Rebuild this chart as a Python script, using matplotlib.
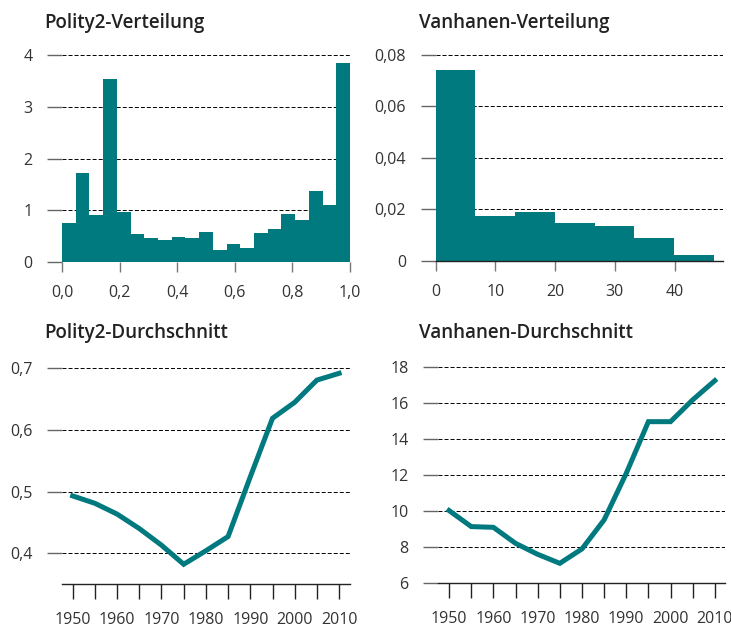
import numpy as np
import matplotlib.pyplot as plt

plt.rcParams['font.family'] = ['Open Sans', 'DejaVu Sans']

teal = '#00797f'

# Polity2-Verteilung (21 Klassen von 0 bis 1)
polity_bins = np.linspace(0, 1, 22)
polity_dens = [0.75, 1.71, 0.91, 3.55, 0.96, 0.53, 0.45, 0.43, 0.47, 0.45, 0.57,
               0.23, 0.35, 0.26, 0.56, 0.63, 0.92, 0.81, 1.38, 1.09, 3.86]

# Vanhanen-Verteilung (7 Klassen)
vanh_bins = np.linspace(0, 46.6, 8)
vanh_dens = [0.0740, 0.01757, 0.01886, 0.01473, 0.01357, 0.00904, 0.00245]

# Durchschnitte
years = [1950, 1955, 1960, 1965, 1970, 1975, 1980, 1985, 1990, 1995, 2000, 2005, 2010]
polity_mean = [0.493, 0.481, 0.4635, 0.440, 0.413, 0.382, 0.404, 0.427, 0.524,
               0.619, 0.645, 0.681, 0.692]
vanh_mean = [10.04, 9.15, 9.11, 8.22, 7.61, 7.11, 7.91, 9.52, 12.11, 14.98, 14.98,
             16.19, 17.26]

tl_xticks = [0, 0.2, 0.4, 0.6, 0.8, 1.0]
tl_xlabels = ['0,0', '0,2', '0,4', '0,6', '0,8', '1,0']
tl_yticks = [0, 1, 2, 3, 4]
tr_xticks = [0, 10, 20, 30, 40]
tr_yticks = [0, 0.02, 0.04, 0.06, 0.08]
tr_ylabels = ['0', '0,02', '0,04', '0,06', '0,08']
bl_yticks = [0.4, 0.5, 0.6, 0.7]
bl_ylabels = ['0,4', '0,5', '0,6', '0,7']
br_yticks = [6, 8, 10, 12, 14, 16, 18]
dec_years = [1950, 1960, 1970, 1980, 1990, 2000, 2010]

fig = plt.figure(figsize=(7.31, 6.27), dpi=100, facecolor='white')

ax1 = fig.add_axes([0.0848, 0.5826, 0.394, 0.3333])
ax2 = fig.add_axes([0.5958, 0.5837, 0.3933, 0.3313])
ax3 = fig.add_axes([0.0848, 0.0686, 0.394, 0.3635])
ax4 = fig.add_axes([0.5992, 0.0697, 0.3926, 0.3531])


def style(ax, gridvals, bottom_spine=True, xtick_col='#777777', xtick_len=7.2):
    for s in ['top', 'right', 'left']:
        ax.spines[s].set_visible(False)
    ax.spines['bottom'].set_visible(bottom_spine)
    ax.spines['bottom'].set_color('#222222')
    ax.spines['bottom'].set_linewidth(1.0)
    for g in gridvals:
        ax.axhline(g, color='black', lw=0.7, linestyle=(0, (4.1, 2.1)), zorder=0.5)
    ax.tick_params(axis='y', direction='out', length=10.8, width=1.0, color='#666666',
                   pad=10.5, labelsize=11.5, labelcolor='#333333')
    ax.tick_params(axis='x', which='both', direction='out', length=xtick_len, width=1.0,
                   color=xtick_col, pad=9.5, labelsize=11.5, labelcolor='#333333')


# oben links
ax1.bar(polity_bins[:-1], polity_dens, width=np.diff(polity_bins), align='edge',
        color=teal, linewidth=0, zorder=2)
ax1.set_xlim(0, 1)
ax1.set_ylim(0, 4.05)
ax1.set_xticks(tl_xticks, tl_xlabels)
ax1.set_yticks(tl_yticks, [str(v) for v in tl_yticks])
style(ax1, [1, 2, 3, 4], bottom_spine=False)

# oben rechts
ax2.bar(vanh_bins[:-1], vanh_dens, width=np.diff(vanh_bins), align='edge',
        color=teal, linewidth=0, zorder=2)
ax2.set_xlim(0, 48.1)
ax2.set_ylim(0, 0.0805)
ax2.set_xticks(tr_xticks, [str(v) for v in tr_xticks])
ax2.set_yticks(tr_yticks, tr_ylabels)
style(ax2, tr_yticks[1:])
ax2.spines['bottom'].set_zorder(3)

# unten links
ax3.plot(years, polity_mean, color=teal, lw=3.6, solid_joinstyle='miter', zorder=3)
ax3.set_xlim(1947.6, 2012.45)
ax3.set_ylim(0.35, 0.72)
ax3.set_xticks(dec_years, [str(v) for v in dec_years])
ax3.set_xticks(years[1::2], minor=True)
ax3.set_yticks(bl_yticks, bl_ylabels)
style(ax3, bl_yticks, xtick_col='#222222', xtick_len=10.5)

# unten rechts
ax4.plot(years, vanh_mean, color=teal, lw=3.6, solid_joinstyle='miter', zorder=3)
ax4.set_xlim(1947.5, 2012.3)
ax4.set_ylim(6, 18.3)
ax4.set_xticks(dec_years, [str(v) for v in dec_years])
ax4.set_xticks(years[1::2], minor=True)
ax4.set_yticks(br_yticks, [str(v) for v in br_yticks])
style(ax4, br_yticks[1:], xtick_col='#222222', xtick_len=10.5)

# Titel
tkw = dict(fontsize=13.5, fontweight='semibold', color='#222222', va='baseline')
fig.text(44 / 731, 1 - 28 / 627, 'Polity2-Verteilung', **tkw)
fig.text(419 / 731, 1 - 28 / 627, 'Vanhanen-Verteilung', **tkw)
fig.text(44 / 731, 1 - 338 / 627, 'Polity2-Durchschnitt', **tkw)
fig.text(419 / 731, 1 - 338 / 627, 'Vanhanen-Durchschnitt', **tkw)

plt.savefig('out.png', dpi=100, facecolor='white')
